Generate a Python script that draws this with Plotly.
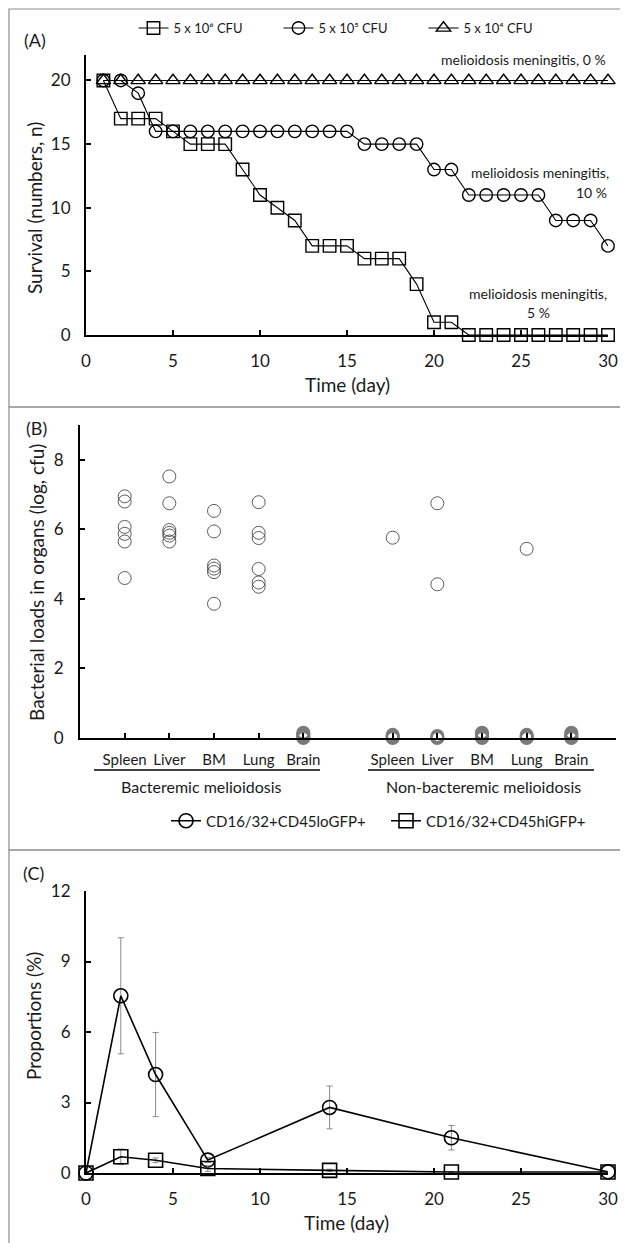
import plotly.graph_objects as go

W, H = 628, 1243
FONT = "Lato"
TXT = "#1a1a1a"

# ---------------- Panel A data ----------------
days_a = list(range(1, 31))
surv_1e6 = [20, 17, 17, 17, 16, 15, 15, 15, 13, 11, 10, 9, 7, 7, 7, 6, 6, 6, 4, 1, 1,
            0, 0, 0, 0, 0, 0, 0, 0, 0]
surv_1e5 = [20, 20, 19, 16, 16, 16, 16, 16, 16, 16, 16, 16, 16, 16, 16, 15, 15, 15, 15, 13, 13,
            11, 11, 11, 11, 11, 9, 9, 9, 7]
surv_1e4 = [20] * 30
legend_a = ["5 x 10\u2076 CFU", "5 x 10\u2075 CFU", "5 x 10\u2074 CFU"]
notes_a = ["melioidosis meningitis, 0 %", "melioidosis meningitis,", "10 %",
           "melioidosis meningitis,", "5 %"]

# ---------------- Panel B data ----------------
organs = ["Spleen", "Liver", "BM", "Lung", "Brain"]
groups_b = ["Bacteremic melioidosis", "Non-bacteremic melioidosis"]
bact_spleen = [6.95, 6.8, 6.07, 5.87, 5.65, 4.6]
bact_liver = [7.52, 6.75, 5.98, 5.9, 5.82, 5.65]
bact_bm = [6.53, 5.94, 4.96, 4.87, 4.77, 3.86]
bact_lung = [6.78, 5.9, 5.75, 4.86, 4.47, 4.35]
bact_brain = [0.0, 0.03, 0.06, 0.09, 0.12, 0.15]
nonb_spleen = [5.76, 0.0, 0.03, 0.06, 0.09]
nonb_liver = [6.75, 4.42, 0.0, 0.03, 0.06]
nonb_bm = [0.0, 0.03, 0.06, 0.09, 0.12, 0.15]
nonb_lung = [5.44, 0.0, 0.03, 0.06, 0.09]
nonb_brain = [0.0, 0.03, 0.06, 0.09, 0.12, 0.15]

# ---------------- Panel C data ----------------
days_c = [0, 2, 4, 7, 14, 21, 30]
lo_mean = [0, 7.54, 4.19, 0.55, 2.79, 1.5, 0.05]
lo_err = [0, 2.47, 1.79, 0.1, 0.91, 0.52, 0.0]
hi_mean = [0, 0.69, 0.54, 0.19, 0.11, 0.04, 0.04]
hi_err = [0, 0.33, 0.1, 0.12, 0.05, 0.02, 0.0]
legend_c = ["CD16/32+CD45loGFP+", "CD16/32+CD45hiGFP+"]


def py(px):
    return 1 - px / H


def pxx(px):
    return px / W


fig = go.Figure()

# Panel A traces
for name, vals, sym in zip(legend_a, [surv_1e6, surv_1e5, surv_1e4],
                           ["square-open", "circle-open", "triangle-up-open"]):
    fig.add_trace(go.Scatter(x=days_a, y=vals, mode="lines+markers", name=name,
                             marker=dict(symbol=sym, size=12.5, color="black",
                                         line=dict(color="black", width=1.4)),
                             line=dict(color="black", width=1.1),
                             xaxis="x", yaxis="y", legend="legend",
                             cliponaxis=False))

# Panel B traces
b_pos = [1, 2, 3, 4, 5, 7, 8, 9, 10, 11]
b_lists = [bact_spleen, bact_liver, bact_bm, bact_lung, bact_brain,
           nonb_spleen, nonb_liver, nonb_bm, nonb_lung, nonb_brain]
nonzero_x, nonzero_y, zero_x, zero_y = [], [], [], []
for pos, vals in zip(b_pos, b_lists):
    for v in vals:
        if v > 0.5:
            nonzero_x.append(pos)
            nonzero_y.append(v)
        else:
            zero_x.append(pos)
            zero_y.append(v)
fig.add_trace(go.Scatter(x=nonzero_x, y=nonzero_y, mode="markers", showlegend=False,
                         marker=dict(symbol="circle-open", size=13, color="#4a4a4a",
                                     line=dict(color="#4a4a4a", width=0.9)),
                         xaxis="x2", yaxis="y2", cliponaxis=False))
fig.add_trace(go.Scatter(x=zero_x, y=zero_y, mode="markers", showlegend=False,
                         marker=dict(symbol="circle-open", size=12, color="#7a7a7a",
                                     line=dict(color="#7a7a7a", width=2)),
                         xaxis="x2", yaxis="y2", cliponaxis=False))

# Panel C traces
for name, m, e, sym in zip(legend_c, [lo_mean, hi_mean], [lo_err, hi_err],
                           ["circle-open", "square-open"]):
    fig.add_trace(go.Scatter(x=days_c, y=m, mode="lines+markers", name=name,
                             error_y=dict(type="data", array=e, color="#8a8a8a",
                                          thickness=1, width=3),
                             marker=dict(symbol=sym, size=14, color="black",
                                         line=dict(color="black", width=1.6)),
                             line=dict(color="black", width=1.6),
                             xaxis="x3", yaxis="y3", legend="legend2",
                             cliponaxis=False))

axis_common = dict(showline=True, linecolor="black", linewidth=2.2, showgrid=False,
                   zeroline=False, tickcolor="black", tickwidth=2, ticklen=5,
                   automargin=False, ticks="inside",
                   tickfont=dict(family=FONT, size=17, color=TXT))

fig.update_layout(
    width=W, height=H, margin=dict(l=0, r=0, t=0, b=0),
    paper_bgcolor="white", plot_bgcolor="white",
    font=dict(family=FONT, color=TXT),
    xaxis=dict(axis_common, domain=[pxx(78), pxx(600)], range=[0, 30], dtick=5,
               anchor="y", ticklabelstandoff=9),
    yaxis=dict(axis_common, domain=[py(327), py(47)], range=[0, 22],
               tickvals=[0, 5, 10, 15, 20], anchor="x", ticklabelstandoff=10),
    xaxis2=dict(axis_common, domain=[pxx(72), pxx(608)], range=[0, 12],
                tickvals=b_pos, ticktext=organs + organs,
                anchor="y2", ticklabelstandoff=7,
                tickfont=dict(family=FONT, size=15, color=TXT)),
    yaxis2=dict(axis_common, domain=[py(730), py(417)], range=[0, 9],
                tickvals=[0, 2, 4, 6, 8], anchor="x2", ticklabelstandoff=11),
    xaxis3=dict(axis_common, domain=[pxx(78), pxx(600)], range=[0, 30], dtick=5,
                anchor="y3", ticklabelstandoff=9),
    yaxis3=dict(axis_common, domain=[py(1165), py(883)], range=[0, 12],
                tickvals=[0, 3, 6, 9, 12], anchor="x3", ticklabelstandoff=10),
    legend=dict(orientation="h", x=pxx(343), xanchor="center", y=py(20), yanchor="middle",
                font=dict(family=FONT, size=13, color=TXT), itemwidth=30,
                bgcolor="rgba(0,0,0,0)", entrywidth=100),
    legend2=dict(orientation="h", x=pxx(378), xanchor="center", y=py(813), yanchor="middle",
                 font=dict(family=FONT, size=15, color=TXT), itemwidth=30,
                 bgcolor="rgba(0,0,0,0)", entrywidth=175),
)

paper_annos = [
    dict(text="(A)", x=pxx(14), y=py(32), xanchor="left", size=18),
    dict(text="(B)", x=pxx(16), y=py(420), xanchor="left", size=18),
    dict(text="(C)", x=pxx(13), y=py(865), xanchor="left", size=18),
    dict(text="Survival (numbers, n)", x=pxx(26), y=py(200), size=19, textangle=-90),
    dict(text="Time (day)", x=pxx(339), y=py(376), size=19),
    dict(text="Bacterial loads in organs (log, cfu)", x=pxx(28), y=py(575), size=19,
         textangle=-90),
    dict(text="Proportions (%)", x=pxx(25), y=py(1008), size=19, textangle=-90),
    dict(text="Time (day)", x=pxx(338), y=py(1214), size=19),
    dict(text=groups_b[0], x=pxx(193), y=py(778), size=16),
    dict(text=groups_b[1], x=pxx(475), y=py(778), size=16),
    dict(text=notes_a[0], x=pxx(600), y=py(52), xanchor="right", size=14),
    dict(text=notes_a[1], x=pxx(603), y=py(165), xanchor="right", size=14),
    dict(text=notes_a[2], x=pxx(601), y=py(184), xanchor="right", size=14),
    dict(text=notes_a[3], x=pxx(530), y=py(285), size=14),
    dict(text=notes_a[4], x=pxx(530), y=py(305), size=14),
]
for a in paper_annos:
    s = a.pop("size")
    a.setdefault("xanchor", "center")
    fig.add_annotation(**a, xref="paper", yref="paper", yanchor="middle", showarrow=False,
                       font=dict(family=FONT, size=s, color=TXT))

# underlines below organ labels
fig.add_shape(type="line", xref="paper", yref="paper", x0=pxx(86), x1=pxx(312),
              y0=py(762), y1=py(762), line=dict(color="black", width=1.6))
fig.add_shape(type="line", xref="paper", yref="paper", x0=pxx(360), x1=pxx(586),
              y0=py(762), y1=py(762), line=dict(color="black", width=1.6))

# panel borders
for y0, y1 in [(1, 399), (399, 842), (842, 1242)]:
    fig.add_shape(type="rect", xref="paper", yref="paper", x0=pxx(1), x1=pxx(627),
                  y0=py(y1), y1=py(y0), line=dict(color="#8c8c8c", width=1.2),
                  fillcolor="rgba(0,0,0,0)")

fig.write_html("out.html")
